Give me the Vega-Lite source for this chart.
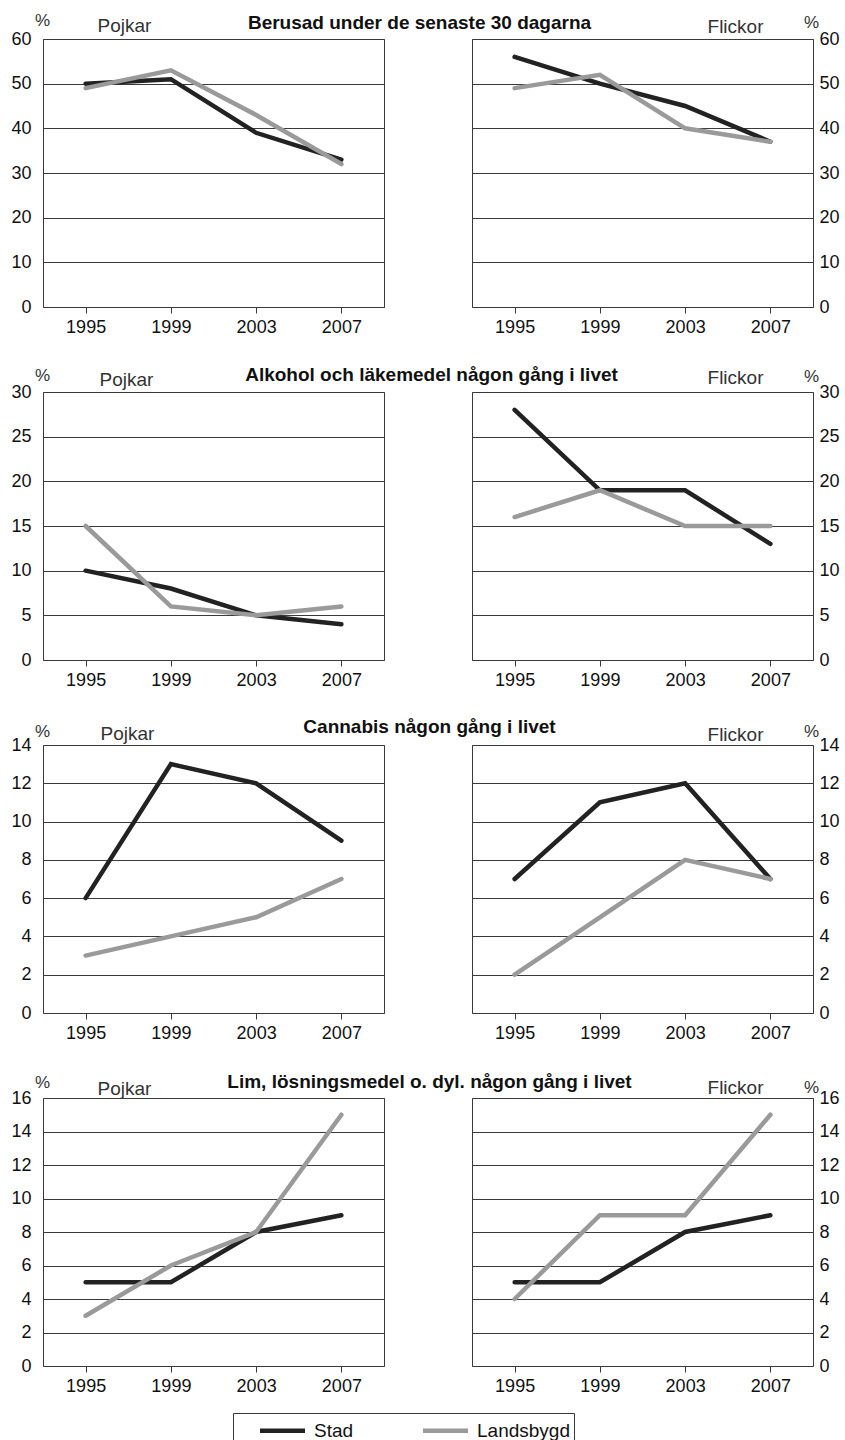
{
  "$schema": "https://vega.github.io/schema/vega-lite/v6.json",
  "background": "white",
  "padding": {"left": 10, "top": 10, "right": 0, "bottom": 0},
  "bounds": "flush",
  "columns": 2,
  "spacing": {"row": 85, "column": 88},
  "data": {"values": [
    {"topic": "Berusad", "sex": "Pojkar", "area": "Stad", "year": "1995", "value": 50},
    {"topic": "Berusad", "sex": "Pojkar", "area": "Stad", "year": "1999", "value": 51},
    {"topic": "Berusad", "sex": "Pojkar", "area": "Stad", "year": "2003", "value": 39},
    {"topic": "Berusad", "sex": "Pojkar", "area": "Stad", "year": "2007", "value": 33},
    {"topic": "Berusad", "sex": "Pojkar", "area": "Landsbygd", "year": "1995", "value": 49},
    {"topic": "Berusad", "sex": "Pojkar", "area": "Landsbygd", "year": "1999", "value": 53},
    {"topic": "Berusad", "sex": "Pojkar", "area": "Landsbygd", "year": "2003", "value": 43},
    {"topic": "Berusad", "sex": "Pojkar", "area": "Landsbygd", "year": "2007", "value": 32},
    {"topic": "Berusad", "sex": "Flickor", "area": "Stad", "year": "1995", "value": 56},
    {"topic": "Berusad", "sex": "Flickor", "area": "Stad", "year": "1999", "value": 50},
    {"topic": "Berusad", "sex": "Flickor", "area": "Stad", "year": "2003", "value": 45},
    {"topic": "Berusad", "sex": "Flickor", "area": "Stad", "year": "2007", "value": 37},
    {"topic": "Berusad", "sex": "Flickor", "area": "Landsbygd", "year": "1995", "value": 49},
    {"topic": "Berusad", "sex": "Flickor", "area": "Landsbygd", "year": "1999", "value": 52},
    {"topic": "Berusad", "sex": "Flickor", "area": "Landsbygd", "year": "2003", "value": 40},
    {"topic": "Berusad", "sex": "Flickor", "area": "Landsbygd", "year": "2007", "value": 37},
    {"topic": "Alkohol", "sex": "Pojkar", "area": "Stad", "year": "1995", "value": 10},
    {"topic": "Alkohol", "sex": "Pojkar", "area": "Stad", "year": "1999", "value": 8},
    {"topic": "Alkohol", "sex": "Pojkar", "area": "Stad", "year": "2003", "value": 5},
    {"topic": "Alkohol", "sex": "Pojkar", "area": "Stad", "year": "2007", "value": 4},
    {"topic": "Alkohol", "sex": "Pojkar", "area": "Landsbygd", "year": "1995", "value": 15},
    {"topic": "Alkohol", "sex": "Pojkar", "area": "Landsbygd", "year": "1999", "value": 6},
    {"topic": "Alkohol", "sex": "Pojkar", "area": "Landsbygd", "year": "2003", "value": 5},
    {"topic": "Alkohol", "sex": "Pojkar", "area": "Landsbygd", "year": "2007", "value": 6},
    {"topic": "Alkohol", "sex": "Flickor", "area": "Stad", "year": "1995", "value": 28},
    {"topic": "Alkohol", "sex": "Flickor", "area": "Stad", "year": "1999", "value": 19},
    {"topic": "Alkohol", "sex": "Flickor", "area": "Stad", "year": "2003", "value": 19},
    {"topic": "Alkohol", "sex": "Flickor", "area": "Stad", "year": "2007", "value": 13},
    {"topic": "Alkohol", "sex": "Flickor", "area": "Landsbygd", "year": "1995", "value": 16},
    {"topic": "Alkohol", "sex": "Flickor", "area": "Landsbygd", "year": "1999", "value": 19},
    {"topic": "Alkohol", "sex": "Flickor", "area": "Landsbygd", "year": "2003", "value": 15},
    {"topic": "Alkohol", "sex": "Flickor", "area": "Landsbygd", "year": "2007", "value": 15},
    {"topic": "Cannabis", "sex": "Pojkar", "area": "Stad", "year": "1995", "value": 6},
    {"topic": "Cannabis", "sex": "Pojkar", "area": "Stad", "year": "1999", "value": 13},
    {"topic": "Cannabis", "sex": "Pojkar", "area": "Stad", "year": "2003", "value": 12},
    {"topic": "Cannabis", "sex": "Pojkar", "area": "Stad", "year": "2007", "value": 9},
    {"topic": "Cannabis", "sex": "Pojkar", "area": "Landsbygd", "year": "1995", "value": 3},
    {"topic": "Cannabis", "sex": "Pojkar", "area": "Landsbygd", "year": "1999", "value": 4},
    {"topic": "Cannabis", "sex": "Pojkar", "area": "Landsbygd", "year": "2003", "value": 5},
    {"topic": "Cannabis", "sex": "Pojkar", "area": "Landsbygd", "year": "2007", "value": 7},
    {"topic": "Cannabis", "sex": "Flickor", "area": "Stad", "year": "1995", "value": 7},
    {"topic": "Cannabis", "sex": "Flickor", "area": "Stad", "year": "1999", "value": 11},
    {"topic": "Cannabis", "sex": "Flickor", "area": "Stad", "year": "2003", "value": 12},
    {"topic": "Cannabis", "sex": "Flickor", "area": "Stad", "year": "2007", "value": 7},
    {"topic": "Cannabis", "sex": "Flickor", "area": "Landsbygd", "year": "1995", "value": 2},
    {"topic": "Cannabis", "sex": "Flickor", "area": "Landsbygd", "year": "1999", "value": 5},
    {"topic": "Cannabis", "sex": "Flickor", "area": "Landsbygd", "year": "2003", "value": 8},
    {"topic": "Cannabis", "sex": "Flickor", "area": "Landsbygd", "year": "2007", "value": 7},
    {"topic": "Lim", "sex": "Pojkar", "area": "Stad", "year": "1995", "value": 5},
    {"topic": "Lim", "sex": "Pojkar", "area": "Stad", "year": "1999", "value": 5},
    {"topic": "Lim", "sex": "Pojkar", "area": "Stad", "year": "2003", "value": 8},
    {"topic": "Lim", "sex": "Pojkar", "area": "Stad", "year": "2007", "value": 9},
    {"topic": "Lim", "sex": "Pojkar", "area": "Landsbygd", "year": "1995", "value": 3},
    {"topic": "Lim", "sex": "Pojkar", "area": "Landsbygd", "year": "1999", "value": 6},
    {"topic": "Lim", "sex": "Pojkar", "area": "Landsbygd", "year": "2003", "value": 8},
    {"topic": "Lim", "sex": "Pojkar", "area": "Landsbygd", "year": "2007", "value": 15},
    {"topic": "Lim", "sex": "Flickor", "area": "Stad", "year": "1995", "value": 5},
    {"topic": "Lim", "sex": "Flickor", "area": "Stad", "year": "1999", "value": 5},
    {"topic": "Lim", "sex": "Flickor", "area": "Stad", "year": "2003", "value": 8},
    {"topic": "Lim", "sex": "Flickor", "area": "Stad", "year": "2007", "value": 9},
    {"topic": "Lim", "sex": "Flickor", "area": "Landsbygd", "year": "1995", "value": 4},
    {"topic": "Lim", "sex": "Flickor", "area": "Landsbygd", "year": "1999", "value": 9},
    {"topic": "Lim", "sex": "Flickor", "area": "Landsbygd", "year": "2003", "value": 9},
    {"topic": "Lim", "sex": "Flickor", "area": "Landsbygd", "year": "2007", "value": 15}
  ]},
  "config": {
    "font": "Liberation Sans",
    "view": {"stroke": "#3a3a3a", "strokeWidth": 1},
    "line": {"strokeWidth": 4.5, "strokeCap": "round"},
    "title": {"font": "Liberation Sans", "fontSize": 19, "fontWeight": "bold", "color": "#111"},
    "axis": {"labelFont": "Liberation Sans", "labelFontSize": 18, "labelColor": "#111", "domain": false, "titleFont": "Liberation Sans", "titleFontWeight": "normal", "titleColor": "#333", "titleAngle": 0, "titleBaseline": "alphabetic"},
    "axisX": {"grid": false, "ticks": true, "tickSize": 6, "tickColor": "#3a3a3a", "labelPadding": 5, "labelAngle": 0, "titleFontSize": 19},
    "axisY": {"grid": true, "gridColor": "#3a3a3a", "gridWidth": 1, "gridOpacity": 1, "ticks": false, "titleFontSize": 17, "titleAlign": "center"},
    "axisLeft": {"labelPadding": 12},
    "axisRight": {"labelPadding": 6},
    "legend": {"orient": "none", "legendX": 190, "legendY": 1374, "direction": "horizontal", "symbolType": "M-2,0H2", "symbolSize": 506, "symbolStrokeWidth": 5, "labelFontSize": 19, "labelFont": "Liberation Sans", "labelColor": "#111", "labelOffset": 18, "columnPadding": 46, "padding": 4, "symbolOffset": 32, "strokeColor": "#3a3a3a"}
  },
  "concat": [
    {
      "width": 341, "height": 268,
      "title": {"text": "Berusad under de senaste 30 dagarna", "anchor": "middle", "frame": "group", "dx": 206, "offset": -22},
      "transform": [{"filter": "datum.topic == 'Berusad' && datum.sex == 'Pojkar'"}],
      "mark": "line",
      "encoding": {
        "x": {"field": "year", "type": "ordinal", "scale": {"type": "point", "padding": 0.5}, "axis": {"title": "Pojkar", "titleX": 54, "titleY": -276, "titleAlign": "left"}},
        "y": {"field": "value", "type": "quantitative", "scale": {"domain": [0, 60]}, "axis": {"orient": "left", "values": [0, 10, 20, 30, 40, 50, 60], "title": "%", "titleX": -1, "titleY": -14}},
        "color": {"field": "area", "type": "nominal", "scale": {"domain": ["Stad", "Landsbygd"], "range": ["#222222", "#9a9a9a"]}, "legend": {"title": null}}
      }
    },
    {
      "width": 341, "height": 268,
      "transform": [{"filter": "datum.topic == 'Berusad' && datum.sex == 'Flickor'"}],
      "mark": "line",
      "encoding": {
        "x": {"field": "year", "type": "ordinal", "scale": {"type": "point", "padding": 0.5}, "axis": {"title": "Flickor", "titleX": 291, "titleY": -275, "titleAlign": "right"}},
        "y": {"field": "value", "type": "quantitative", "scale": {"domain": [0, 60]}, "axis": {"orient": "right", "values": [0, 10, 20, 30, 40, 50, 60], "title": "%", "titleX": -2, "titleY": -12}},
        "color": {"field": "area", "type": "nominal", "scale": {"domain": ["Stad", "Landsbygd"], "range": ["#222222", "#9a9a9a"]}, "legend": {"title": null}}
      }
    },
    {
      "width": 341, "height": 268,
      "title": {"text": "Alkohol och läkemedel någon gång i livet", "anchor": "middle", "frame": "group", "dx": 218, "offset": -19},
      "transform": [{"filter": "datum.topic == 'Alkohol' && datum.sex == 'Pojkar'"}],
      "mark": "line",
      "encoding": {
        "x": {"field": "year", "type": "ordinal", "scale": {"type": "point", "padding": 0.5}, "axis": {"title": "Pojkar", "titleX": 56, "titleY": -275, "titleAlign": "left"}},
        "y": {"field": "value", "type": "quantitative", "scale": {"domain": [0, 30]}, "axis": {"orient": "left", "values": [0, 5, 10, 15, 20, 25, 30], "title": "%", "titleX": -1, "titleY": -12}},
        "color": {"field": "area", "type": "nominal", "scale": {"domain": ["Stad", "Landsbygd"], "range": ["#222222", "#9a9a9a"]}, "legend": {"title": null}}
      }
    },
    {
      "width": 341, "height": 268,
      "transform": [{"filter": "datum.topic == 'Alkohol' && datum.sex == 'Flickor'"}],
      "mark": "line",
      "encoding": {
        "x": {"field": "year", "type": "ordinal", "scale": {"type": "point", "padding": 0.5}, "axis": {"title": "Flickor", "titleX": 291, "titleY": -277, "titleAlign": "right"}},
        "y": {"field": "value", "type": "quantitative", "scale": {"domain": [0, 30]}, "axis": {"orient": "right", "values": [0, 5, 10, 15, 20, 25, 30], "title": "%", "titleX": -2, "titleY": -11}},
        "color": {"field": "area", "type": "nominal", "scale": {"domain": ["Stad", "Landsbygd"], "range": ["#222222", "#9a9a9a"]}, "legend": {"title": null}}
      }
    },
    {
      "width": 341, "height": 268,
      "title": {"text": "Cannabis någon gång i livet", "anchor": "middle", "frame": "group", "dx": 216, "offset": -15},
      "transform": [{"filter": "datum.topic == 'Cannabis' && datum.sex == 'Pojkar'"}],
      "mark": "line",
      "encoding": {
        "x": {"field": "year", "type": "ordinal", "scale": {"type": "point", "padding": 0.5}, "axis": {"title": "Pojkar", "titleX": 57, "titleY": -274, "titleAlign": "left"}},
        "y": {"field": "value", "type": "quantitative", "scale": {"domain": [0, 14]}, "axis": {"orient": "left", "values": [0, 2, 4, 6, 8, 10, 12, 14], "title": "%", "titleX": -1, "titleY": -9}},
        "color": {"field": "area", "type": "nominal", "scale": {"domain": ["Stad", "Landsbygd"], "range": ["#222222", "#9a9a9a"]}, "legend": {"title": null}}
      }
    },
    {
      "width": 341, "height": 268,
      "transform": [{"filter": "datum.topic == 'Cannabis' && datum.sex == 'Flickor'"}],
      "mark": "line",
      "encoding": {
        "x": {"field": "year", "type": "ordinal", "scale": {"type": "point", "padding": 0.5}, "axis": {"title": "Flickor", "titleX": 291, "titleY": -273, "titleAlign": "right"}},
        "y": {"field": "value", "type": "quantitative", "scale": {"domain": [0, 14]}, "axis": {"orient": "right", "values": [0, 2, 4, 6, 8, 10, 12, 14], "title": "%", "titleX": -2, "titleY": -9}},
        "color": {"field": "area", "type": "nominal", "scale": {"domain": ["Stad", "Landsbygd"], "range": ["#222222", "#9a9a9a"]}, "legend": {"title": null}}
      }
    },
    {
      "width": 341, "height": 268,
      "title": {"text": "Lim, lösningsmedel o. dyl. någon gång i livet", "anchor": "middle", "frame": "group", "dx": 216, "offset": -19},
      "transform": [{"filter": "datum.topic == 'Lim' && datum.sex == 'Pojkar'"}],
      "mark": "line",
      "encoding": {
        "x": {"field": "year", "type": "ordinal", "scale": {"type": "point", "padding": 0.5}, "axis": {"title": "Pojkar", "titleX": 54, "titleY": -272, "titleAlign": "left"}},
        "y": {"field": "value", "type": "quantitative", "scale": {"domain": [0, 16]}, "axis": {"orient": "left", "values": [0, 2, 4, 6, 8, 10, 12, 14, 16], "title": "%", "titleX": -1, "titleY": -11}},
        "color": {"field": "area", "type": "nominal", "scale": {"domain": ["Stad", "Landsbygd"], "range": ["#222222", "#9a9a9a"]}, "legend": {"title": null}}
      }
    },
    {
      "width": 341, "height": 268,
      "transform": [{"filter": "datum.topic == 'Lim' && datum.sex == 'Flickor'"}],
      "mark": "line",
      "encoding": {
        "x": {"field": "year", "type": "ordinal", "scale": {"type": "point", "padding": 0.5}, "axis": {"title": "Flickor", "titleX": 291, "titleY": -273, "titleAlign": "right"}},
        "y": {"field": "value", "type": "quantitative", "scale": {"domain": [0, 16]}, "axis": {"orient": "right", "values": [0, 2, 4, 6, 8, 10, 12, 14, 16], "title": "%", "titleX": -2, "titleY": -6}},
        "color": {"field": "area", "type": "nominal", "scale": {"domain": ["Stad", "Landsbygd"], "range": ["#222222", "#9a9a9a"]}, "legend": {"title": null}}
      }
    }
  ]
}
